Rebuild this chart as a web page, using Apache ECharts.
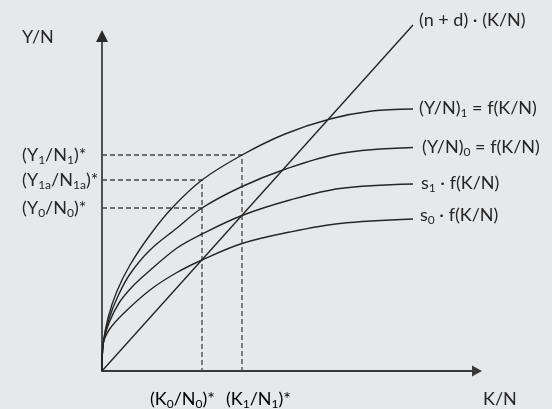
<!DOCTYPE html>
<html>
<head>
<meta charset="utf-8">
<script src="https://cdn.jsdelivr.net/npm/echarts@6/dist/echarts.min.js"></script>
<style>
  html, body { margin: 0; padding: 0; background: #e7e8ea; }
  #chart { width: 552px; height: 409px; }
</style>
</head>
<body>
<div id="chart"></div>
<script>
// steady-state points (K/N on x, Y/N on y)
const kStar = [10.0, 14.0];          // (K0/N0)*, (K1/N1)*
const yStar = [16.3, 19.1, 21.6];    // (Y0/N0)*, (Y1a/N1a)*, (Y1/N1)*
const kStarLabels = ['(K_0/N_0)*', '(K_1/N_1)*'];
const yStarLabels = ['(Y_0/N_0)*', '(Y_1a/N_1a)*', '(Y_1/N_1)*'];

// production / savings curves
const f1 = [[0, 0], [0.1, 2.6], [0.6, 5.3], [1.5, 8.0], [2.8, 10.6], [4.8, 13.6], [7.0, 16.3],
  [10.0, 19.1], [14.0, 21.6], [18.3, 23.7], [22.8, 25.2], [27.0, 26.0], [31.1, 26.2]];
const f0 = [[0, 0], [0.1, 2.6], [0.7, 5.2], [1.6, 7.5], [2.8, 9.7], [4.8, 12.1],
  [7.5, 14.3], [10.0, 16.3], [13.9, 18.4], [18.1, 20.1], [23.8, 21.75], [31.1, 22.35]];
const s1f = [[0, 0], [0.1, 2.6], [0.7, 4.8], [1.7, 6.8], [3.0, 8.4], [4.5, 9.8], [7.5, 12.3],
  [10.0, 13.7], [14.0, 15.55], [18.8, 17.1], [23.8, 18.25], [31.1, 18.7]];
const s0f = [[0, 0], [0.1, 2.6], [0.7, 4.1], [2.1, 5.7], [4.8, 8.1], [7.4, 9.8], [10.0, 11.1],
  [14.0, 12.75], [18.8, 13.9], [23.8, 14.75], [31.1, 15.2]];
const breakEven = [[0, 0], [31.1, 34.6]];
const curveNames = ['(Y/N)_1 = f(K/N)', '(Y/N)_0 = f(K/N)', 's_1 · f(K/N)', 's_0 · f(K/N)'];
const lineName = '(n + d) · (K/N)';

const FONT = 'Lato, "Open Sans", sans-serif';
const INK = '#262626';

// "(Y_1/N_1)" -> rich text with subscripts
function rt(t) {
  return t.split(/_(\w+)/).map((p, i) => p ? (i % 2 ? '{s|' + p + '}' : '{n|' + p + '}') : '').join('');
}
const rich = {
  n: { fontSize: 18, lineHeight: 22, color: INK, fontFamily: FONT },
  s: { fontSize: 12, verticalAlign: 'bottom', color: INK, fontFamily: FONT }
};

const chart = echarts.init(document.getElementById('chart'), null, { renderer: 'canvas' });

function curve(data, name, dist, dy) {
  return {
    type: 'line', data: data, smooth: 0.35, symbol: 'none', z: 3,
    lineStyle: { color: INK, width: 1.4 },
    endLabel: { show: true, formatter: () => rt(name), rich: rich, distance: dist, offset: [0, dy] }
  };
}
function dashed(data) {
  return {
    type: 'line', data: data, symbol: 'none', z: 2,
    lineStyle: { color: '#444', width: 1.3, type: [5, 3] }
  };
}

const option = {
  backgroundColor: '#e7e8ea',
  animation: false,
  grid: { left: 102, top: 36, width: 375, height: 335 },
  xAxis: {
    type: 'value', min: 0, max: 37.5,
    splitLine: { show: false },
    axisTick: { show: false },
    axisLabel: { show: false },
    axisLine: { lineStyle: { color: '#383838', width: 1.8 }, symbol: ['none', 'triangle'], symbolSize: [11, 10] }
  },
  yAxis: {
    type: 'value', min: 0, max: 33.5,
    splitLine: { show: false },
    axisTick: { show: false },
    axisLine: { show: true, lineStyle: { color: '#2a2a2a', width: 1.6 }, symbol: ['none', 'triangle'], symbolSize: [12, 12] },
    axisLabel: {
      customValues: yStar, margin: 80, align: 'left', rich: rich,
      formatter: (v) => rt(yStarLabels[yStar.indexOf(v)])
    }
  },
  series: [
    dashed([[0, yStar[2]], [kStar[1], yStar[2]], [kStar[1], 0]]),
    dashed([[0, yStar[1]], [kStar[0], yStar[1]], [kStar[0], 0]]),
    dashed([[0, yStar[0]], [kStar[0], yStar[0]]]),
    curve(f1, curveNames[0], 6, -1),
    curve(f0, curveNames[1], 9, 0),
    curve(s1f, curveNames[2], 8, -1),
    curve(s0f, curveNames[3], 7, -4),
    {
      type: 'line', data: breakEven, symbol: 'none', clip: false, z: 3,
      lineStyle: { color: INK, width: 1.4 },
      endLabel: { show: true, formatter: () => lineName, color: INK, fontSize: 18, fontFamily: FONT, distance: 6, offset: [0, -5] }
    }
  ]
};
chart.setOption(option);

// labels under the x axis, placed from the data positions
const k0 = chart.convertToPixel({ gridIndex: 0 }, [kStar[0], 0]);
const k1 = chart.convertToPixel({ gridIndex: 0 }, [kStar[1], 0]);
chart.setOption({
  graphic: [
    { type: 'text', x: 22, y: 37, style: { text: 'Y/N', font: '18px ' + FONT, fill: INK, verticalAlign: 'middle' } },
    { type: 'text', x: 483, y: 399, style: { text: 'K/N', font: '18px ' + FONT, fill: INK, verticalAlign: 'middle' } },
    { type: 'text', x: k0[0] + 13, y: 399, style: { text: rt(kStarLabels[0]), rich: rich, align: 'right', verticalAlign: 'middle' } },
    { type: 'text', x: k1[0] - 16, y: 399, style: { text: rt(kStarLabels[1]), rich: rich, align: 'left', verticalAlign: 'middle' } }
  ]
});
</script>
</body>
</html>
